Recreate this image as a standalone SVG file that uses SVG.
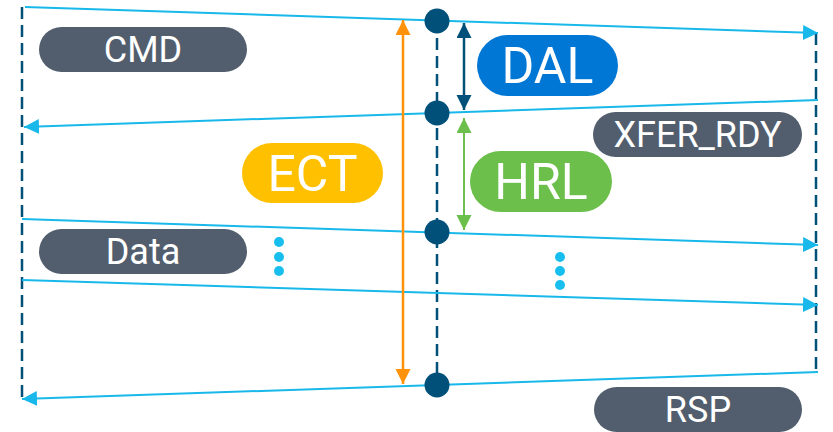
<svg xmlns="http://www.w3.org/2000/svg" width="833" height="432" viewBox="0 0 833 432">
<style>
.life{stroke:#00507a;stroke-width:2.5;stroke-dasharray:12 6;fill:none}
.msg{stroke:#18b8ea;stroke-width:2;fill:none;marker-end:url(#ac)}
.pill{fill:#525e6d}
.lbl{font-family:Roboto,"Liberation Sans",sans-serif;fill:#fff;text-anchor:middle;dominant-baseline:central}
.sm{font-size:36px}
.bg{font-size:50px}
.pt{fill:#00507a}
.dot{fill:#18bfee}
</style>
<defs>
<marker id="ac" markerUnits="userSpaceOnUse" markerWidth="16" markerHeight="16" refX="15" refY="7.5" orient="auto"><path d="M0,0 L15,7.5 L0,15 z" fill="#18b8ea"/></marker>
<marker id="ao" markerUnits="userSpaceOnUse" markerWidth="16" markerHeight="16" refX="15" refY="7.5" orient="auto-start-reverse"><path d="M0,0 L15,7.5 L0,15 z" fill="#ff9209"/></marker>
<marker id="ad" markerUnits="userSpaceOnUse" markerWidth="16" markerHeight="16" refX="15" refY="7.5" orient="auto-start-reverse"><path d="M0,0 L15,7.5 L0,15 z" fill="#00507a"/></marker>
<marker id="ag" markerUnits="userSpaceOnUse" markerWidth="16" markerHeight="16" refX="15" refY="7.5" orient="auto-start-reverse"><path d="M0,0 L15,7.5 L0,15 z" fill="#6cbf4b"/></marker>
</defs>
<g id="lifelines">
<line class="life" x1="22" y1="7" x2="22" y2="398"/>
<line class="life" x1="816" y1="33" x2="816" y2="372"/>
<line class="life" x1="437" y1="20" x2="437" y2="384"/>
</g>
<g id="connectors">
<line class="msg" x1="25" y1="7" x2="818" y2="33"/>
<line class="msg" x1="818" y1="100" x2="24" y2="127"/>
<line class="msg" x1="22" y1="219" x2="818" y2="245"/>
<line class="msg" x1="22" y1="280" x2="818" y2="305"/>
<line class="msg" x1="818" y1="372" x2="22" y2="399"/>
<line x1="403" y1="20" x2="403" y2="384" stroke="#ff9209" stroke-width="2.5" marker-start="url(#ao)" marker-end="url(#ao)"/>
<line x1="464" y1="23" x2="464" y2="110" stroke="#00507a" stroke-width="2.5" marker-start="url(#ad)" marker-end="url(#ad)"/>
<line x1="464" y1="118" x2="464" y2="230" stroke="#6cbf4b" stroke-width="2" marker-start="url(#ag)" marker-end="url(#ag)"/>
</g>
<g id="points">
<circle class="pt" cx="437" cy="21" r="12.5"/>
<circle class="pt" cx="437" cy="113" r="12.5"/>
<circle class="pt" cx="437" cy="232" r="12.5"/>
<circle class="pt" cx="437" cy="385" r="12.5"/>
</g>
<g id="ellipsis-left">
<circle class="dot" cx="279" cy="242" r="5"/>
<circle class="dot" cx="279" cy="257" r="5"/>
<circle class="dot" cx="279" cy="271" r="5"/>
</g>
<g id="ellipsis-right">
<circle class="dot" cx="560" cy="257" r="5"/>
<circle class="dot" cx="560" cy="271" r="5"/>
<circle class="dot" cx="560" cy="285" r="5"/>
</g>
<g id="cmd"><rect class="pill" x="39" y="27" width="208" height="45" rx="22.5"/><text class="lbl sm" x="143" y="50">CMD</text></g>
<g id="xfer_rdy"><rect class="pill" x="593" y="112" width="209" height="45" rx="22.5"/><text class="lbl sm" x="697.5" y="135">XFER_RDY</text></g>
<g id="data"><rect class="pill" x="39" y="229" width="208" height="45" rx="22.5"/><text class="lbl sm" x="143" y="252">Data</text></g>
<g id="rsp"><rect class="pill" x="594" y="387" width="208" height="45" rx="22.5"/><text class="lbl sm" x="698" y="410">RSP</text></g>
<g id="dal"><rect x="477" y="35" width="141" height="61" rx="30.5" fill="#0077d5"/><text class="lbl bg" x="547.5" y="66">DAL</text></g>
<g id="ect"><rect x="242" y="143" width="141" height="60" rx="30" fill="#ffc000"/><text class="lbl bg" x="312.5" y="174">ECT</text></g>
<g id="hrl"><rect x="470" y="151" width="142" height="61" rx="30.5" fill="#6cbf4b"/><text class="lbl bg" x="541" y="182">HRL</text></g>
</svg>
